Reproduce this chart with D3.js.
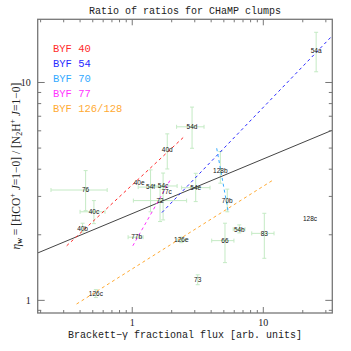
<!DOCTYPE html>
<html><head><meta charset="utf-8">
<script src="https://cdn.jsdelivr.net/npm/d3@7"></script>
<style>body{margin:0;background:#fff}svg{display:block}</style>
</head><body>
<script>
// ---- data ----
const xDomain = [0.19, 33.6];
const yDomain = [0.875, 19.5];
const xTickLabels = [1, 10];
const yTickLabels = [1, 10];
// clumps: name, x, y, xlo, xhi, ylo, yhi
const pointNames = ["54a","54d","40d","76","40e","54f","54c","77c","72","40c","40b","77b","126e","54e","128b","70b","54b","83","66","128c","126c","73"];
const pointX  = [25.3, 2.86, 1.85, 0.441, 1.13, 1.38, 1.72, 1.83, 1.63, 0.51, 0.418, 1.08, 2.37, 3.05, 4.70, 5.31, 6.56, 10.18, 5.10, 22.7, 0.528, 3.16];
const pointY  = [14.0, 6.26, 4.91, 3.21, 3.47, 3.31, 3.35, 3.16, 2.87, 2.55, 2.13, 1.95, 1.89, 3.29, 3.94, 2.87, 2.12, 2.03, 1.88, 2.38, 1.077, 1.25];
const pointXlo = [null, 2.18, null, 0.24, null, 1.11, 1.45, null, 1.02, 0.40, null, 0.93, 2.2, 2.38, null, null, 5.89, 8.16, 4.04, null, null, null];
const pointXhi = [null, 3.53, null, 0.644, null, 1.72, 2.2, null, 2.60, 0.62, null, 1.21, 2.55, 3.92, null, null, 7.25, 12.07, 5.97, null, null, null];
const pointYlo = [11.2, 4.99, 4.01, 2.58, null, 2.55, 2.34, null, 2.30, 2.25, 2.06, null, 1.84, 2.84, 3.45, 2.55, 2.04, 1.56, 1.49, null, 1.03, 1.18];
const pointYhi = [17.0, 7.71, 5.81, 3.94, null, 3.97, 3.84, null, 3.33, 2.87, 2.26, null, 1.95, 3.83, 4.82, 3.24, 2.22, 2.51, 2.26, null, 1.12, 1.31];
// fit lines: [x0, y0, x1, y1]
const fitAll = [0.19, 1.65, 33.6, 6.04];
const groupNames = ["BYF 40", "BYF 54", "BYF 70", "BYF 77", "BYF 126/128"];
const groupColors = ["#ff2a2a", "#2a2aff", "#33aaff", "#ff33ff", "#ffaa33"];
const groupFits = [
  [0.316, 1.78, 2.48, 5.63],
  [1.685, 2.53, 33.3, 16.3],
  [4.41, 4.99, 5.40, 2.55],
  [1.01, 1.78, 1.97, 3.61],
  [0.376, 0.962, 11.9, 3.57]
];

// ---- layout ----
const W = 351, H = 351;
const L = 37.7, R = 332.3, T = 19.3, B = 313;
const svg = d3.select("body").append("svg").attr("width", W).attr("height", H);
const x = d3.scaleLog().domain(xDomain).range([L, R]);
const y = d3.scaleLog().domain(yDomain).range([B, T]);
const axisCol = "#777";

// clip
svg.append("clipPath").attr("id","clip").append("rect").attr("x",L).attr("y",T).attr("width",R-L).attr("height",B-T);
const plot = svg.append("g").attr("clip-path","url(#clip)");

// error bars
const eb = plot.append("g").attr("stroke", "#c4eac4").attr("stroke-width", 1).attr("fill","none");
const cap = 2;
pointNames.forEach((n, i) => {
  const px = x(pointX[i]), py = y(pointY[i]);
  if (pointXlo[i] != null) {
    const a = x(pointXlo[i]), b = x(pointXhi[i]);
    eb.append("line").attr("x1", a).attr("x2", b).attr("y1", py).attr("y2", py);
    eb.append("line").attr("x1", a).attr("x2", a).attr("y1", py-cap).attr("y2", py+cap);
    eb.append("line").attr("x1", b).attr("x2", b).attr("y1", py-cap).attr("y2", py+cap);
  }
  if (pointYlo[i] != null) {
    const a = y(pointYlo[i]), b = y(pointYhi[i]);
    eb.append("line").attr("x1", px).attr("x2", px).attr("y1", a).attr("y2", b);
    eb.append("line").attr("x1", px-cap).attr("x2", px+cap).attr("y1", a).attr("y2", a);
    eb.append("line").attr("x1", px-cap).attr("x2", px+cap).attr("y1", b).attr("y2", b);
  }
});

// fit lines
plot.append("line")
  .attr("x1", x(fitAll[0])).attr("y1", y(fitAll[1]))
  .attr("x2", x(fitAll[2])).attr("y2", y(fitAll[3]))
  .attr("stroke", "#444").attr("stroke-width", 1);
groupFits.forEach((f, i) => {
  plot.append("line")
    .attr("x1", x(f[0])).attr("y1", y(f[1]))
    .attr("x2", x(f[2])).attr("y2", y(f[3]))
    .attr("stroke", groupColors[i]).attr("stroke-width", 1)
    .attr("stroke-dasharray", "3,3");
});

// point labels
const lab = svg.append("g").attr("font-family", "'Liberation Sans', Arial, sans-serif")
  .attr("font-size", 6.5).attr("fill", "#111").attr("text-anchor", "middle");
pointNames.forEach((n, i) => {
  lab.append("text").attr("x", x(pointX[i])).attr("y", y(pointY[i]) + 2.3).text(n);
});

// axes with log ticks
const tickVals = (dom) => {
  const out = [];
  for (let e = -2; e <= 3; e++) for (let m = 1; m <= 9; m++) {
    const v = m * Math.pow(10, e);
    if (v >= dom[0] && v <= dom[1]) out.push(v);
  }
  return out;
};
const isMajor = v => Math.abs(Math.log10(v) - Math.round(Math.log10(v))) < 1e-9;
const ax = svg.append("g").attr("stroke", axisCol).attr("stroke-width", 1);
tickVals(xDomain).forEach(v => {
  const len = isMajor(v) ? 6 : 3, px = x(v);
  ax.append("line").attr("x1", px).attr("x2", px).attr("y1", B).attr("y2", B - len);
  ax.append("line").attr("x1", px).attr("x2", px).attr("y1", T).attr("y2", T + len);
});
tickVals(yDomain).forEach(v => {
  const len = isMajor(v) ? 7 : 3.5, py = y(v);
  ax.append("line").attr("x1", L).attr("x2", L + len).attr("y1", py).attr("y2", py);
  ax.append("line").attr("x1", R).attr("x2", R - len).attr("y1", py).attr("y2", py);
});
svg.append("rect").attr("x", L).attr("y", T).attr("width", R - L).attr("height", B - T)
  .attr("fill", "none").attr("stroke", axisCol).attr("stroke-width", 1.3);

// tick labels
const tl = svg.append("g").attr("font-family", "'Liberation Serif', 'Times New Roman', serif")
  .attr("font-size", 10).attr("fill", "#222");
xTickLabels.forEach(v => tl.append("text").attr("x", x(v)).attr("y", B + 12.5).attr("text-anchor", "middle").text(v));
yTickLabels.forEach(v => tl.append("text").attr("x", L - 7).attr("y", y(v) + 3.5).attr("text-anchor", "end").text(v));

// legend
const leg = svg.append("g").attr("font-family", "'Liberation Mono', 'Courier New', monospace").attr("font-size", 10.5);
groupNames.forEach((n, i) => {
  leg.append("text").attr("x", 53).attr("y", 51.5 + i * 15).attr("fill", groupColors[i]).text(n);
});

// title & axis labels
svg.append("text").attr("x", (L + R) / 2).attr("y", 13.5).attr("text-anchor", "middle")
  .attr("font-family", "'Liberation Mono', 'Courier New', monospace").attr("font-size", 10).attr("fill", "#222")
  .text("Ratio of ratios for CHaMP clumps");
svg.append("text").attr("x", (L + R) / 2).attr("y", 338).attr("text-anchor", "middle")
  .attr("font-family", "'Liberation Mono', 'Courier New', monospace").attr("font-size", 10).attr("fill", "#222")
  .text("Brackett\u2212\u03b3 fractional flux [arb. units]");

const yl = svg.append("text").attr("transform", `translate(19.5,${(T + B) / 2}) rotate(-90)`)
  .attr("text-anchor", "middle").attr("font-family", "'Liberation Serif', 'Times New Roman', serif")
  .attr("font-size", 11.5).attr("fill", "#222");
yl.append("tspan").attr("font-style", "italic").text("\u03b7");
yl.append("tspan").attr("font-size", 8).attr("dy", 2).attr("font-weight","bold").text("w");
yl.append("tspan").attr("dy", -2).text(" = [HCO");
yl.append("tspan").attr("font-size", 8).attr("dy", -4.5).text("+");
yl.append("tspan").attr("dy", 4.5).text(" ");
yl.append("tspan").attr("font-style", "italic").text("J");
yl.append("tspan").text("=1\u22120] / [N");
yl.append("tspan").attr("font-size", 8).attr("dy", 2).text("2");
yl.append("tspan").attr("dy", -2).text("H");
yl.append("tspan").attr("font-size", 8).attr("dy", -4.5).text("+");
yl.append("tspan").attr("dy", 4.5).text(" ");
yl.append("tspan").attr("font-style", "italic").text("J");
yl.append("tspan").text("=1\u22120]");
</script>
</body></html>
